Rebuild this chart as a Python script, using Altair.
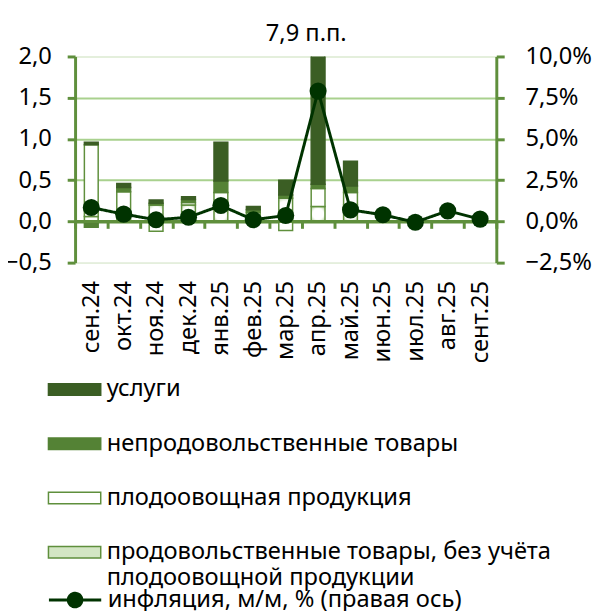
import altair as alt
import pandas as pd

months = ["сен.24", "окт.24", "ноя.24", "дек.24", "янв.25", "фев.25", "мар.25",
          "апр.25", "май.25", "июн.25", "июл.25", "авг.25", "сент.25"]
bar_months = months[:9]
services = [0.03, 0.05, 0.04, 0.035, 0.47, 0.04, 0.18, 7.45, 0.30]
nonfood = [-0.07, 0.05, 0.02, 0.035, 0.14, 0.03, 0.04, 0.05, 0.08]
fruit = [0.87, 0.26, -0.12, 0.03, 0.20, 0.0, -0.11, 0.22, 0.15]
food = [0.06, 0.10, 0.20, 0.20, 0.15, 0.11, 0.28, 0.18, 0.20]
inflation = [0.84, 0.44, 0.10, 0.25, 0.96, 0.10, 0.36, 7.9, 0.70, 0.40, -0.05, 0.64, 0.14]

cat_names = ["услуги", "непродовольственные товары", "плодоовощная продукция",
             "продовольственные товары, без учёта плодоовощной продукции"]
line_name = "инфляция, м/м, % (правая ось)"
annot_month = ["апр.25"]
annot_text = ["7,9 п.п."]
annot_level = [2.0]

FONT = "Noto Sans"
DARK = "#3b5e24"
MED = "#548235"
OUT = "#5f8f3c"
GRID = "#a9d18e"
FAINT = "#e4efdc"
LINE = "#003300"

rows = []
stack_parts = [(cat_names[3], food), (cat_names[2], fruit), (cat_names[1], nonfood), (cat_names[0], services)]
for i, m in enumerate(bar_months):
    for rank, (cat, vals) in enumerate(stack_parts):
        rows.append({"month": m, "cat": cat, "value": vals[i], "rank": rank})
bars_df = pd.DataFrame(rows)
line_df = pd.DataFrame({"month": months, "infl": inflation, "series": [line_name] * len(months)})
annot_df = pd.DataFrame({"month": annot_month, "text": annot_text, "lvl": annot_level})

W, H = 427, 209
ZERO_OFF = -H * 0.5 / 2.5

x_enc = alt.X(
    "month:N", sort=months, title=None,
    scale=alt.Scale(domain=months, paddingInner=0, paddingOuter=0),
    axis=alt.Axis(orient="bottom", offset=ZERO_OFF, labelAngle=270, labelAlign="right",
                  labelBaseline="middle", labelPadding=-ZERO_OFF + 11,
                  labelFont=FONT, labelFontSize=24, labelColor="black",
                  domain=True, domainColor=OUT, domainWidth=3,
                  ticks=True, tickBand="extent", tickSize=7, tickWidth=3, tickColor=OUT,
                  grid=False),
)

left_dom = alt.Scale(domain=[-0.5, 2.0], nice=False, zero=False)
right_dom = alt.Scale(domain=[-2.5, 10], nice=False, zero=False)

legend_bars = alt.Legend(
    orient="none", legendX=-28, legendY=310, title=None, direction="vertical",
    symbolType="M-1,-0.22H1V0.22H-1Z", symbolSize=2809, symbolStrokeWidth=1.5,
    labelFont=FONT, labelFontSize=24, labelColor="black", labelOffset=5,
    rowPadding=15, labelLimit=600,
    labelExpr="indexof(datum.label, 'без учёта') > 0 ? ['продовольственные товары, без учёта', 'плодоовощной продукции'] : datum.label",
)

food_grad = alt.RadialGradient(
    gradient="radial", x1=0.5, y1=0.5, r1=0, x2=0.5, y2=0.5, r2=0.75,
    stops=[alt.GradientStop(offset=0, color="#ffffff"),
           alt.GradientStop(offset=0.5, color="#ffffff"),
           alt.GradientStop(offset=1, color="#8cbb68")],
)

bars = alt.Chart(bars_df).mark_bar(width=14, clip=True, strokeWidth=1.5).encode(
    x=x_enc,
    y=alt.Y("value:Q", stack="zero", title=None, scale=left_dom,
            axis=alt.Axis(values=[-0.5, 0, 0.5, 1, 1.5, 2],
                          labelExpr="replace(format(datum.value, '.1f'), '.', ',')",
                          labelFont=FONT, labelFontSize=24, labelColor="black", labelPadding=16,
                          domainColor=OUT, domainWidth=3, tickColor=OUT, tickWidth=3, tickSize=8,
                          gridColor={"condition": {"test": "datum.value === 2 || datum.value === -0.5", "value": FAINT}, "value": GRID},
                          gridWidth=2)),
    fill=alt.condition(
        f"datum.cat === '{cat_names[3]}'",
        alt.value(food_grad),
        alt.Fill("cat:N", scale=alt.Scale(domain=cat_names, range=[DARK, MED, "#ffffff", "#d3e6c4"]),
                 legend=legend_bars),
    ),
    stroke=alt.Stroke("cat:N", scale=alt.Scale(domain=cat_names, range=[DARK, MED, OUT, OUT]),
                      legend=legend_bars),
    order=alt.Order("rank:Q"),
)

zero_rule = alt.Chart(bars_df).mark_rule(color=OUT, strokeWidth=3).encode(
    y=alt.Y(datum=0, scale=left_dom, axis=None)
)

annot = alt.Chart(annot_df).mark_text(font=FONT, fontSize=24, color="black", dy=-23, dx=-12,
                                      baseline="middle").encode(
    x=x_enc,
    y=alt.Y("lvl:Q", scale=left_dom, axis=None),
    text="text:N",
)

line = alt.Chart(line_df).mark_line(color=LINE, strokeWidth=3).encode(
    x=x_enc,
    y=alt.Y("infl:Q", title=None, scale=right_dom,
            axis=alt.Axis(orient="right", values=[-2.5, 0, 2.5, 5, 7.5, 10],
                          labelExpr="replace(format(datum.value, '.1f'), '.', ',') + '%'",
                          labelFont=FONT, labelFontSize=24, labelColor="black", labelPadding=21,
                          domainColor=OUT, domainWidth=3, tickColor=OUT, tickWidth=3, tickSize=8,
                          grid=False)),
    strokeDash=alt.StrokeDash(
        "series:N", scale=alt.Scale(range=[[1, 0]]),
        legend=alt.Legend(orient="none", legendX=-28, legendY=523, title=None,
                          symbolType="M-1,0H1M-0.26,0A0.26,0.26,0,1,1,0.26,0A0.26,0.26,0,1,1,-0.26,0Z",
                          symbolSize=2809, symbolStrokeColor=LINE, symbolFillColor=LINE,
                          symbolStrokeWidth=3, labelFont=FONT, labelFontSize=24, labelColor="black",
                          labelOffset=5, labelLimit=600)),
)

points = alt.Chart(line_df).mark_point(filled=True, size=300, color=LINE, opacity=1).encode(
    x=x_enc,
    y=alt.Y("infl:Q", scale=right_dom, axis=None),
)

chart = alt.layer(bars, zero_rule, annot, line, points).resolve_scale(y="independent").properties(
    width=W, height=H,
    autosize=alt.AutoSizeParams(type="none"),
    padding={"left": 68, "top": 45, "right": 97, "bottom": 349},
).configure_view(stroke=None).configure(font=FONT)

chart.save("out.html", embed_options={"renderer": "svg", "actions": False})
